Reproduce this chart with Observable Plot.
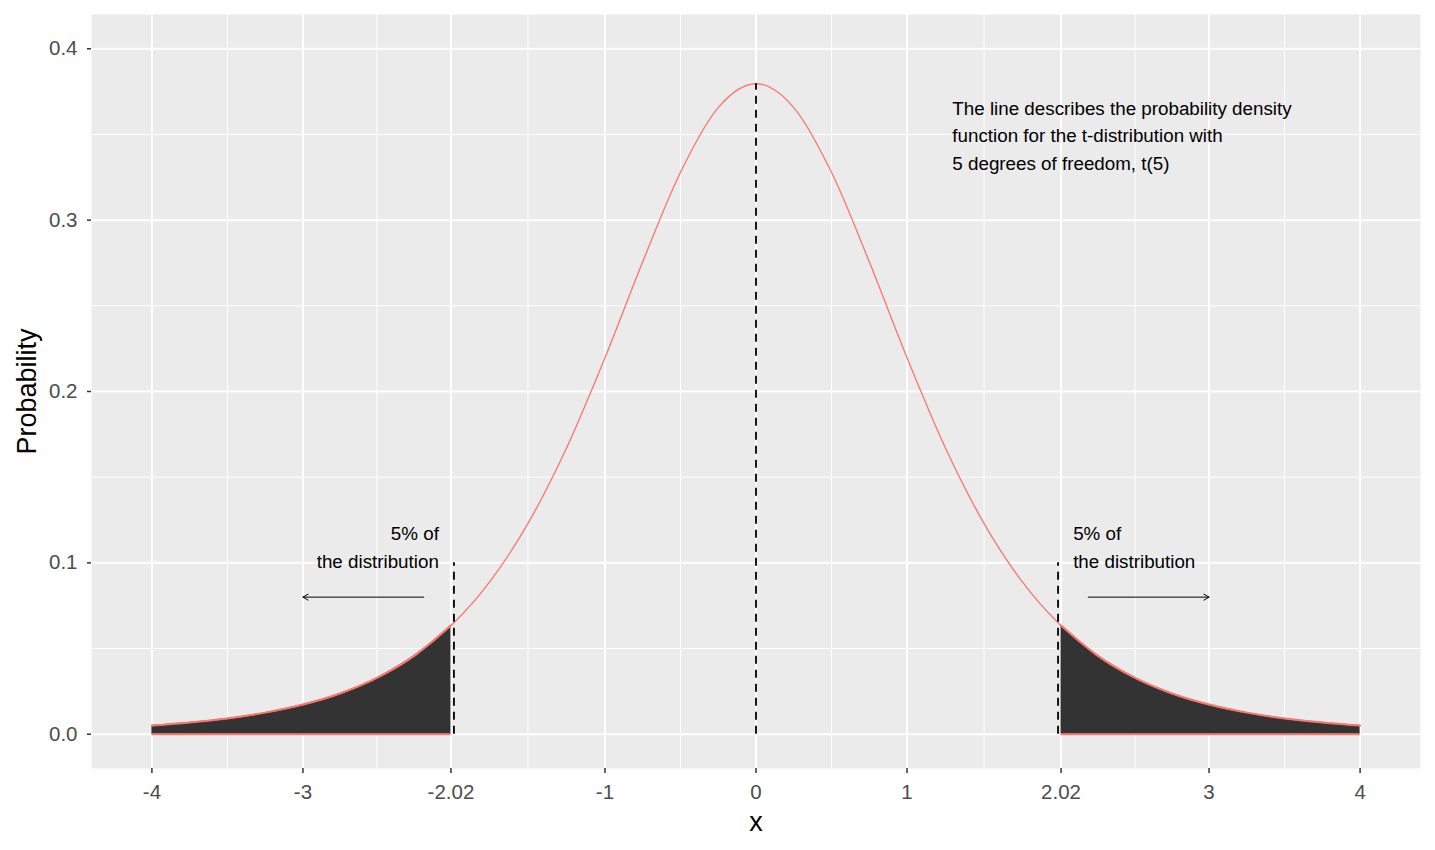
<!DOCTYPE html>
<html>
<head>
<meta charset="utf-8">
<script src="https://cdn.jsdelivr.net/npm/d3@7"></script>
<script src="https://cdn.jsdelivr.net/npm/@observablehq/plot@0.6"></script>
<style>
  html, body { margin: 0; padding: 0; background: white; }
</style>
</head>
<body>
<div id="chart"></div>
<script>
// t(5) density
const xs = [-4, -3.75, -3.5, -3.25, -3, -2.75, -2.5, -2.25, -2.02, -2, -1.75, -1.5, -1.25, -1, -0.75, -0.5, -0.25,
            0, 0.25, 0.5, 0.75, 1, 1.25, 1.5, 1.75, 2, 2.02, 2.25, 2.5, 2.75, 3, 3.25, 3.5, 3.75, 4];
const dens = [0.0051, 0.0069, 0.0092, 0.0126, 0.0173, 0.0239, 0.0333, 0.0466, 0.0634, 0.0651, 0.0905, 0.1245, 0.1679, 0.2197, 0.2757, 0.3279, 0.3657,
              0.3796, 0.3657, 0.3279, 0.2757, 0.2197, 0.1679, 0.1245, 0.0905, 0.0651, 0.0634, 0.0466, 0.0333, 0.0239, 0.0173, 0.0126, 0.0092, 0.0069, 0.0051];
const critLow = -2.02;
const critHigh = 2.02;
const xTicks = [-4, -3, -2.02, -1, 0, 1, 2.02, 3, 4];
const xMinor = [-3.5, -2.51, -1.51, -0.5, 0.5, 1.51, 2.51, 3.5];
const yTicks = [0, 0.1, 0.2, 0.3, 0.4];
const yMinor = [0.05, 0.15, 0.25, 0.35];
const dashedLines = [{x: 0, top: 0.3796}, {x: -2.0, top: 0.1}, {x: 2.0, top: 0.1}];
const arrows = [{x1: -2.2, x2: -3.0, y: 0.08}, {x1: 2.2, x2: 3.0, y: 0.08}];
const notesStart = [
  {x: 1.3, y: 0.3505, text: "The line describes the probability density\nfunction for the t-distribution with\n5 degrees of freedom, t(5)"},
  {x: 2.1, y: 0.1105, text: "5% of\nthe distribution"}
];
const notesEnd = [
  {x: -2.1, y: 0.1105, text: "5% of\nthe distribution"}
];

const curve = xs.map((x, i) => ({x, y: dens[i]}));
const lowTail = curve.filter(d => d.x <= critLow);
const highTail = curve.filter(d => d.x >= critHigh);
const red = "#F8766D";
const noteStyle = {x: "x", y: "y", text: "text", lineAnchor: "middle", lineHeight: 1.47, fontSize: 18.8, fill: "black"};

const chart = Plot.plot({
  width: 1435,
  height: 850,
  marginLeft: 91,
  marginRight: 15,
  marginTop: 14,
  marginBottom: 82,
  style: {fontFamily: "'Liberation Sans', Arial, sans-serif", background: "white"},
  x: {domain: [-4.4, 4.4]},
  y: {domain: [-0.02, 0.42]},
  marks: [
    Plot.frame({fill: "#EBEBEB", stroke: null}),
    Plot.ruleX(xMinor, {stroke: "white", strokeWidth: 1}),
    Plot.ruleY(yMinor, {stroke: "white", strokeWidth: 1}),
    Plot.ruleX(xTicks, {stroke: "white", strokeWidth: 2}),
    Plot.ruleY(yTicks, {stroke: "white", strokeWidth: 2}),
    Plot.areaY(lowTail, {x: "x", y: "y", fill: "#333333", curve: "monotone-x"}),
    Plot.areaY(highTail, {x: "x", y: "y", fill: "#333333", curve: "monotone-x"}),
    Plot.ruleY([0], {x1: -4, x2: critLow, stroke: red, strokeWidth: 2}),
    Plot.ruleY([0], {x1: critHigh, x2: 4, stroke: red, strokeWidth: 2}),
    Plot.line(lowTail, {x: "x", y: "y", stroke: red, strokeWidth: 2, curve: "monotone-x"}),
    Plot.line(highTail, {x: "x", y: "y", stroke: red, strokeWidth: 2, curve: "monotone-x"}),
    Plot.line(curve, {x: "x", y: "y", stroke: red, strokeWidth: 1.3, curve: "monotone-x"}),
    Plot.ruleX(dashedLines, {x: "x", y1: 0, y2: "top", stroke: "black", strokeWidth: 1.8, strokeDasharray: "8,6"}),
    Plot.arrow(arrows, {x1: "x1", x2: "x2", y1: "y", y2: "y", stroke: "black", strokeWidth: 1, headLength: 9, headAngle: 60}),
    Plot.text(notesStart, {...noteStyle, textAnchor: "start"}),
    Plot.text(notesEnd, {...noteStyle, textAnchor: "end"}),
    Plot.axisX({ticks: xTicks, tickFormat: d => String(d), tickSize: 5, tickPadding: 11, stroke: "#333333", strokeWidth: 1.5, fill: "#4D4D4D", fontSize: 20.5, label: null}),
    Plot.axisY({ticks: yTicks, tickFormat: d => d.toFixed(1), tickSize: 4, tickPadding: 10, stroke: "#333333", strokeWidth: 1.5, fill: "#4D4D4D", fontSize: 20.5, label: null}),
    Plot.text(["x"], {frameAnchor: "bottom", dy: 54, lineAnchor: "middle", textAnchor: "middle", fontSize: 27, fill: "black"}),
    Plot.text(["Probability"], {frameAnchor: "left", dx: -64, rotate: -90, textAnchor: "middle", lineAnchor: "middle", fontSize: 27, fill: "black"})
  ]
});
document.getElementById("chart").appendChild(chart);
</script>
</body>
</html>
